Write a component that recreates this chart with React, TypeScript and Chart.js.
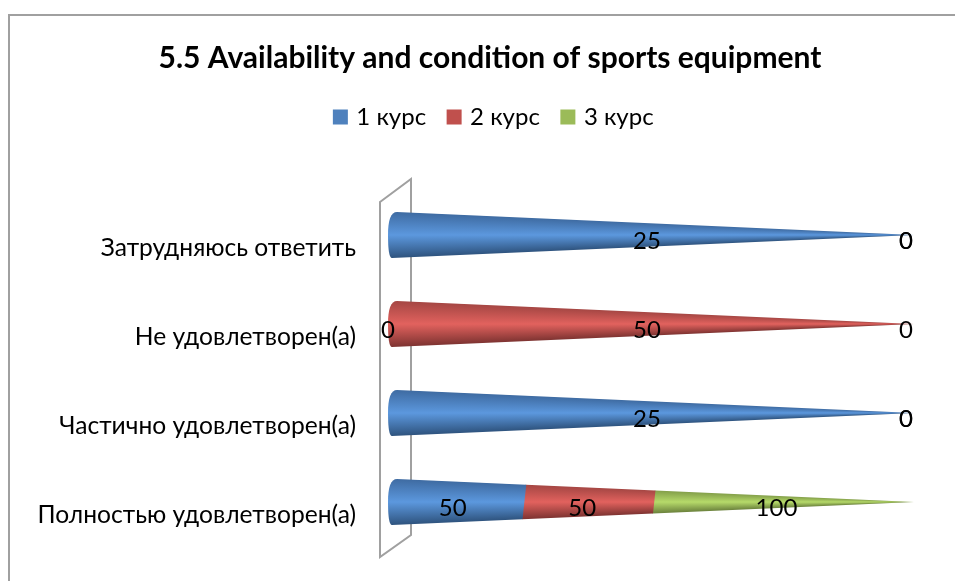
import React, { useEffect, useRef } from "react";
import { Chart, registerables } from "chart.js";

Chart.register(...registerables);

const categories = [
  "Затрудняюсь ответить",
  "Не удовлетворен(а)",
  "Частично удовлетворен(а)",
  "Полностью удовлетворен(а)",
];
const seriesNames = ["1 курс", "2 курс", "3 курс"];
const course1 = [25, 0, 25, 50];
const course2 = [0, 50, 0, 50];
const course3 = [0, 0, 0, 100];
const seriesValues = [course1, course2, course3];
const titleText = "5.5 Availability and condition of sports equipment";
const legendColors = ["#4f81bd", "#c0504d", "#9bbb59"];
const shades = [
  ["#3f6ca3", "#5c98de", "#2f547f"],
  ["#a64744", "#e2625e", "#7f3432"],
  ["#84a04a", "#b6da6a", "#6c833d"],
];
const FONT = "Lato, 'Noto Sans', sans-serif";
const PLOT_TOP = 190.5;
const PLOT_BOTTOM = 546.5;

const rowTotals = categories.map((_, r) => seriesValues.reduce((s, v) => s + v[r], 0));

const conePlugin = {
  id: "cones",
  afterLayout(chart: any) {
    chart.legend.left += 10;
    const y = chart.scales.y;
    y.top = PLOT_TOP;
    y.bottom = PLOT_BOTTOM;
    y.height = PLOT_BOTTOM - PLOT_TOP;
    y.configure();
    chart.chartArea.top = PLOT_TOP;
    chart.chartArea.bottom = PLOT_BOTTOM;
    chart.chartArea.height = PLOT_BOTTOM - PLOT_TOP;
  },
  beforeDraw(chart: any) {
    const { ctx } = chart;
    ctx.save();
    ctx.strokeStyle = "#a0a0a0";
    ctx.lineWidth = 2;
    ctx.beginPath();
    ctx.moveTo(9, 581);
    ctx.lineTo(9, 15);
    ctx.lineTo(955, 15);
    ctx.stroke();
    ctx.restore();
  },
  beforeDatasetsDraw(chart: any) {
    const { ctx, chartArea, scales } = chart;
    const l = scales.x.getPixelForValue(0), t = chartArea.top, b = chartArea.bottom;
    ctx.save();
    ctx.strokeStyle = "#a0a0a0";
    ctx.lineWidth = 2;
    ctx.beginPath();
    ctx.moveTo(l - 8, t + 11.5);
    ctx.lineTo(l + 23, t - 11.5);
    ctx.lineTo(l + 23, b - 11.5);
    ctx.lineTo(l - 8, b + 10.5);
    ctx.closePath();
    ctx.stroke();
    ctx.restore();
  },
  beforeDatasetDraw(chart: any, args: any) {
    const { ctx, scales } = chart;
    const x0 = scales.x.getPixelForValue(0);
    const x1 = scales.x.getPixelForValue(1);
    const span = x1 - x0;
    const R = (scales.y.getPixelForValue(1) - scales.y.getPixelForValue(0)) * 0.2584;
    const L = (f: number) => x0 + f * span + 8 * f;
    const T = (f: number) => L(f) + 9 * (1 - f);
    const B = (f: number) => L(f) + 4 * (1 - f);
    const meta = args.meta;
    const [c0, c1, c2] = shades[args.index];
    meta.data.forEach((bar: any) => {
      const f0 = (bar.base - x0) / span;
      const f1 = (bar.x - x0) / span;
      if (f1 - f0 < 1e-6) return;
      const yc = bar.y;
      const h = (f: number) => R * (1 - f);
      const yTop = (f: number) => yc - h(f);
      const yBot = (f: number) => yc + h(f);
      ctx.save();
      ctx.beginPath();
      ctx.moveTo(T(f0), yTop(f0));
      ctx.lineTo(T(f1), yTop(f1));
      ctx.lineTo(B(f1), yBot(f1));
      ctx.lineTo(B(f0), yBot(f0));
      ctx.quadraticCurveTo(L(f0), yBot(f0), L(f0), yc);
      ctx.quadraticCurveTo(L(f0), yTop(f0), T(f0), yTop(f0));
      ctx.closePath();
      ctx.clip();
      const from = Math.floor(L(f0) - 1);
      const to = Math.ceil(T(f1) + 1);
      for (let x = from; x < to; x++) {
        const f = Math.max(0, Math.min(1, (x - L(0)) / (L(1) - L(0))));
        const hh = Math.max(0.6, h(f));
        const g = ctx.createLinearGradient(0, yc - hh, 0, yc + hh);
        g.addColorStop(0, c0);
        g.addColorStop(0.5, c1);
        g.addColorStop(1, c2);
        ctx.fillStyle = g;
        ctx.fillRect(x, yc - hh - 1, 1, 2 * hh + 2);
      }
      ctx.restore();
    });
    return false;
  },
  afterDatasetsDraw(chart: any) {
    const { ctx } = chart;
    ctx.save();
    ctx.font = `24px ${FONT}`;
    ctx.fillStyle = "#000";
    ctx.textAlign = "center";
    ctx.textBaseline = "middle";
    chart.data.datasets.forEach((_: any, i: number) => {
      chart.getDatasetMeta(i).data.forEach((bar: any, r: number) => {
        ctx.fillText(String(seriesValues[i][r]), (bar.base + bar.x) / 2, bar.y + 6.5);
      });
    });
    ctx.restore();
  },
};

export default function App() {
  const ref = useRef<HTMLCanvasElement>(null);
  useEffect(() => {
    const chart = new Chart(ref.current as HTMLCanvasElement, {
      type: "bar",
      data: {
        labels: categories,
        datasets: seriesNames.map((name, i) => ({
          label: name,
          data: seriesValues[i].map((v, r) => v / rowTotals[r]),
          backgroundColor: legendColors[i],
          borderColor: legendColors[i],
          borderWidth: 7,
          categoryPercentage: 1,
          barPercentage: 0.5,
        })),
      },
      options: {
        indexAxis: "y",
        animation: false,
        responsive: false,
        layout: { padding: { top: 0, left: 30, right: 5, bottom: 34.5 } },
        plugins: {
          tooltip: { enabled: false },
          title: {
            display: true,
            text: titleText,
            color: "#000",
            font: { family: FONT, size: 30, weight: "bold" },
            padding: { top: 40, bottom: 5 },
          },
          legend: {
            display: true,
            position: "top",
            labels: {
              boxWidth: 8,
              boxHeight: 8,
              color: "#000",
              padding: 24,
              font: { family: FONT, size: 24 },
            },
          },
        },
        scales: {
          x: {
            display: true,
            position: "top",
            stacked: true,
            min: 0,
            max: 1.085,
            grid: { display: false, drawTicks: false },
            border: { display: false },
            ticks: { display: false },
            afterFit(scale: any) {
              scale.height = 51.5;
            },
          },
          y: {
            stacked: true,
            grid: { display: false, drawTicks: false },
            border: { display: false },
            afterFit(scale: any) {
              scale.width = 358;
            },
            ticks: {
              color: "#000",
              padding: 32,
              labelOffset: 13,
              font: { family: FONT, size: 24.6 },
            },
          },
        },
      },
      plugins: [conePlugin],
    } as any);
    return () => chart.destroy();
  }, []);
  return (
    <div style={{ position: "absolute", left: 0, top: 0, width: 955, height: 581, background: "#fff" }}>
      <canvas ref={ref} width={955} height={581} style={{ display: "block" }} />
    </div>
  );
}
